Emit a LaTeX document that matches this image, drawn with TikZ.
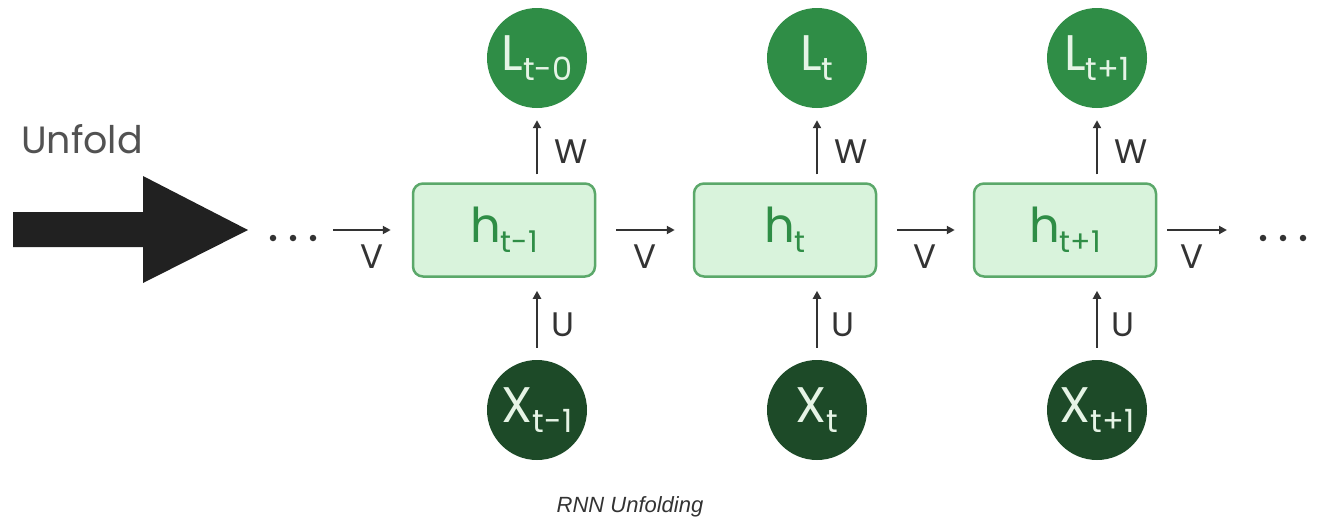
\documentclass[tikz,border=0pt]{standalone}
\usepackage{fontspec}
\setmainfont{Poppins}
\newfontfamily\capfont{Liberation Sans}
\usetikzlibrary{arrows.meta}
\definecolor{lgreen}{HTML}{2F8D46}
\definecolor{dgreen}{HTML}{1D4A28}
\definecolor{boxfill}{HTML}{D9F3DC}
\definecolor{boxline}{HTML}{5BA86A}
\definecolor{txt}{HTML}{333333}
\definecolor{ctext}{HTML}{E6F4E6}
\newcommand\mysub[2]{\raisebox{-0.2em}{\fontsize{#1}{#1}\selectfont #2}}
\begin{document}
\begin{tikzpicture}[x=1pt,y=-1pt,
  hbox/.style={draw=boxline, line width=2.5pt, fill=boxfill, rounded corners=10pt,
    minimum width=182pt, minimum height=93pt, inner sep=0pt, text=lgreen,
    font=\fontsize{48}{48}\selectfont},
  lnode/.style={circle, fill=lgreen, minimum size=100pt, inner sep=0pt, text=ctext,
    font=\fontsize{50}{50}\selectfont},
  xnode/.style={lnode, fill=dgreen},
  conn/.style={draw=txt, line width=2.6pt, -{Triangle[length=8pt,width=8pt]}},
  lbl/.style={text=txt, font=\fontsize{34}{34}\selectfont, inner sep=0pt},
  dot/.style={circle, fill=txt, minimum size=6.5pt, inner sep=0pt}
]
\useasboundingbox (0,0) rectangle (1320,525);

% Unfold
\node[text=txt!85!white, font=\fontsize{38}{38}\selectfont, inner sep=0pt] (unfold) at (82,139) {Unfold};
\fill[fill=black!87] (13,212) -- (143,212) -- (143,176) -- (248,230) -- (143,283) -- (143,247) -- (13,247) -- cycle;

% dots
\node[dot] (d1) at (273,238) {};
\node[dot] (d2) at (293,238) {};
\node[dot] (d3) at (313,238) {};
\node[dot] (d4) at (1263,238) {};
\node[dot] (d5) at (1283,238) {};
\node[dot] (d6) at (1303,238) {};

% hidden boxes
\node[hbox] (hA) at (504,230) {h\mysub{30}{t-1}};
\node[hbox] (hB) at (785,230) {h\mysub{30}{t}};
\node[hbox] (hC) at (1065,230) {h\mysub{30}{t+1}};

% outputs
\node[lnode] (LA) at (537,58) {L\mysub{32}{t-0}};
\node[lnode] (LB) at (817,58) {L\mysub{32}{t}};
\node[lnode] (LC) at (1097,58) {L\mysub{32}{t+1}};

% inputs
\node[xnode] (XA) at (537,410) {X\mysub{32}{t-1}};
\node[xnode] (XB) at (817,410) {X\mysub{32}{t}};
\node[xnode] (XC) at (1097,410) {X\mysub{32}{t+1}};

% W arrows
\foreach \h/\l in {hA/LA, hB/LB, hC/LC}{
  \draw[conn, shorten <=8pt, shorten >=12pt] (\l |- \h.north) -- node[lbl, right=16pt, yshift=-6pt]{W} (\l.south);
}
% U arrows
\foreach \h/\x in {hA/XA, hB/XB, hC/XC}{
  \draw[conn, shorten <=12pt, shorten >=13pt] (\x.north) -- node[lbl, right=13pt, yshift=-6pt]{U} (\x |- \h.south);
}

% V arrows
\coordinate (inL) at (333,230);
\coordinate (outR) at (1227,230);
\draw[conn, shorten >=21pt] (inL) -- node[lbl, below=13pt]{V} (hA.west);
\draw[conn, shorten <=20pt, shorten >=18pt] (hA.east) -- node[lbl, below=13pt]{V} (hB.west);
\draw[conn, shorten <=20pt, shorten >=18pt] (hB.east) -- node[lbl, below=13pt]{V} (hC.west);
\draw[conn, shorten <=10pt] (hC.east) -- node[lbl, below=13pt]{V} (outR);

% caption
\node[font=\capfont\itshape\fontsize{22}{22}\selectfont, text=txt] (cap) at (630,507) {RNN Unfolding};
\end{tikzpicture}
\end{document}
